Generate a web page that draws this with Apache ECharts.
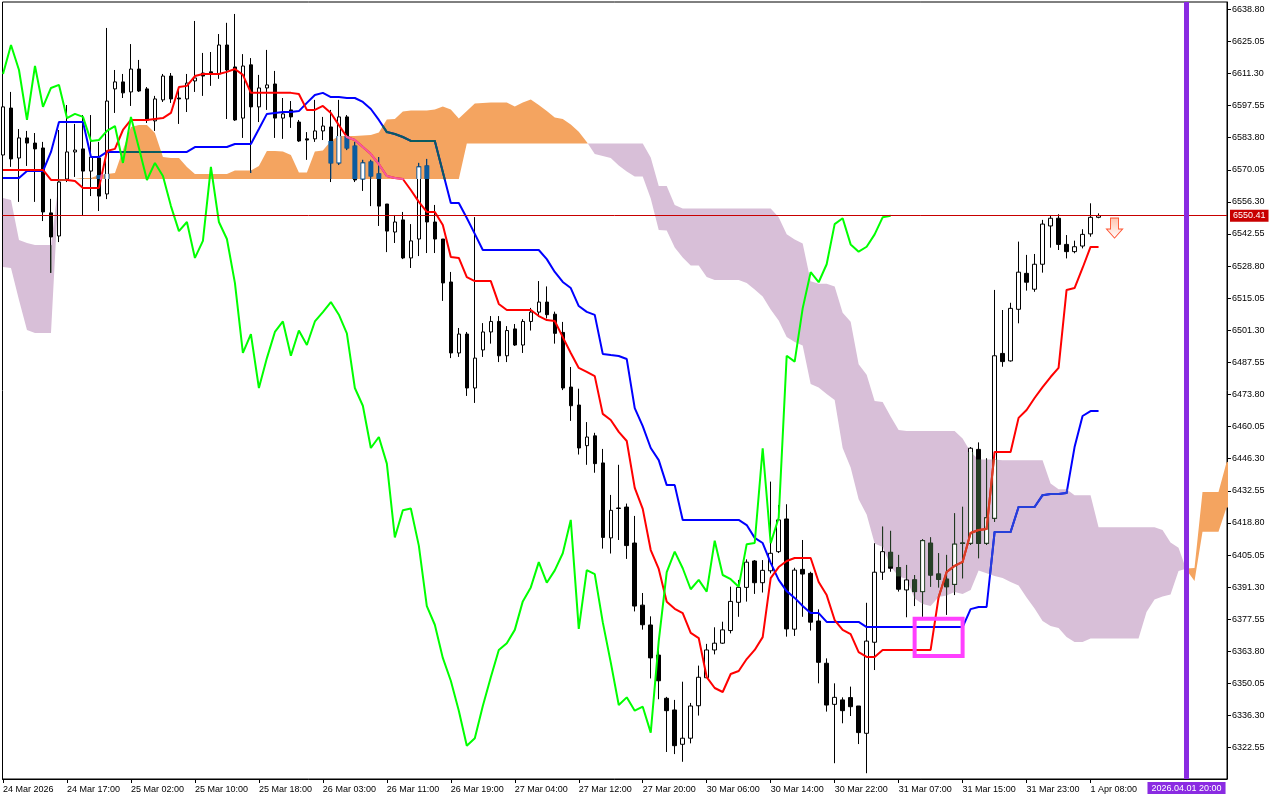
<!DOCTYPE html>
<html><head><meta charset="utf-8">
<script src="https://cdn.jsdelivr.net/npm/echarts@6/dist/echarts.min.js"></script>
<style>html,body{margin:0;padding:0;background:#fff}#c{width:1280px;height:800px}</style>
</head><body><div id="c"></div><script>
// ---- DATA ----
const opens = [
6576.4,6596.5,6575.1,6583.7,6581.5,6579.4,6551.6,6541.7,6566.1,6577.7,
6579.0,6569.5,6575.1,6559.7,6604.7,6607.7,6603.4,6613.2,6604.7,6591.0,
6600.0,6610.2,6600.8,6600.4,6608.1,6611.5,6612.0,6611.1,6623.5,6614.1,
6592.2,6615.0,6597.0,6605.1,6606.8,6592.2,6595.7,6590.5,6583.3,6583.3,
6586.7,6588.4,6573.0,6592.7,6580.2,6566.1,6573.4,6568.3,6555.4,6543.4,
6548.6,6532.3,6540.4,6571.7,6547.7,6540.4,6522.0,6491.6,6499.7,6476.6,
6492.9,6500.6,6505.1,6490.4,6501.9,6495.0,6505.1,6509.1,6513.4,6508.2,
6500.4,6477.0,6469.3,6451.9,6456.1,6444.5,6412.4,6425.2,6425.6,6410.2,
6383.6,6375.1,6362.2,6343.7,6338.7,6324.0,6326.6,6340.5,6352.5,6364.4,
6367.3,6372.7,6384.8,6391.2,6402.5,6393.2,6398.3,6406.5,6420.5,6373.3,
6398.9,6397.2,6376.8,6358.7,6341.1,6343.0,6344.0,6340.4,6328.7,6367.7,
6397.7,6406.2,6399.6,6390.1,6394.4,6389.4,6410.1,6396.9,6394.7,6392.5,
6410.0,6410.1,6450.3,6410.1,6420.8,6491.4,6488.2,6510.3,6525.7,6518.9,
6529.6,6546.0,6549.3,6538.1,6535.0,6537.4,6542.6,6549.7];
const closes = [
6597.0,6574.7,6583.7,6581.5,6579.0,6552.0,6541.3,6564.8,6577.7,6578.5,
6569.5,6575.5,6558.8,6599.5,6607.7,6603.0,6613.2,6603.8,6591.4,6600.4,
6610.2,6600.4,6600.4,6607.2,6609.4,6610.2,6611.1,6623.5,6612.8,6591.4,
6614.5,6597.0,6605.1,6606.4,6592.2,6594.0,6592.7,6582.4,6582.8,6586.7,
6588.8,6573.0,6592.7,6579.4,6565.7,6573.0,6567.4,6554.5,6543.8,6547.7,
6532.3,6539.6,6571.3,6547.7,6540.4,6521.6,6491.6,6499.7,6476.6,6489.4,
6500.6,6505.1,6490.4,6501.2,6495.0,6505.1,6509.1,6513.4,6508.0,6500.0,
6476.6,6469.0,6450.9,6455.6,6444.2,6412.6,6424.2,6425.0,6409.1,6383.2,
6375.2,6361.0,6351.2,6338.4,6323.4,6326.6,6340.4,6352.7,6364.4,6367.3,
6373.0,6385.2,6391.2,6402.0,6393.2,6398.5,6405.8,6420.1,6373.4,6398.6,
6396.9,6376.3,6359.1,6340.8,6344.1,6338.4,6340.1,6329.0,6368.2,6397.7,
6406.5,6399.4,6390.4,6394.4,6389.4,6411.2,6396.5,6394.7,6391.5,6409.7,
6410.2,6450.8,6410.1,6421.0,6490.4,6487.9,6510.7,6526.2,6521.9,6529.6,
6546.8,6549.3,6538.1,6535.0,6537.1,6542.4,6549.7,6550.41];
const highs = [
6597.8,6603.4,6587.5,6586.7,6585.8,6582.0,6557.6,6587.1,6597.8,6589.7,
6593.5,6593.5,6582.0,6630.8,6612.8,6611.1,6623.9,6617.1,6605.5,6601.7,
6611.1,6611.5,6605.5,6611.1,6633.8,6620.1,6620.5,6628.2,6633.0,6636.8,
6619.6,6617.9,6610.7,6621.4,6612.4,6600.8,6599.5,6591.4,6586.2,6600.0,
6592.7,6595.7,6600.0,6593.5,6582.0,6574.3,6574.3,6575.5,6555.4,6550.7,
6552.0,6546.8,6573.0,6574.7,6555.0,6540.4,6526.3,6502.3,6500.6,6549.8,
6504.4,6507.4,6507.4,6503.1,6504.0,6506.1,6510.9,6522.4,6520.1,6509.3,
6504.9,6485.6,6476.3,6462.0,6457.4,6450.5,6430.8,6443.7,6427.1,6421.8,
6388.8,6378.8,6364.4,6344.3,6343.0,6350.8,6341.7,6357.7,6367.0,6374.1,
6376.5,6391.5,6394.4,6403.2,6402.9,6402.9,6436.5,6426.5,6426.8,6399.6,
6411.5,6397.9,6381.8,6360.8,6350.1,6344.1,6348.7,6340.4,6384.6,6410.1,
6417.2,6415.4,6405.1,6400.8,6396.5,6411.9,6412.6,6405.8,6405.1,6422.9,
6425.7,6451.3,6453.3,6446.5,6518.6,6510.0,6513.1,6539.3,6533.6,6534.0,
6548.6,6550.3,6551.0,6542.1,6539.7,6544.6,6555.7,6551.4];
const lows = [
6574.3,6571.3,6556.3,6571.7,6556.3,6548.1,6525.9,6539.1,6564.8,6567.0,
6550.3,6558.8,6552.4,6557.5,6594.4,6600.8,6597.4,6603.4,6590.1,6586.7,
6599.1,6598.7,6589.7,6594.8,6603.4,6601.7,6606.0,6609.0,6591.8,6591.0,
6583.7,6568.7,6590.5,6595.7,6583.7,6583.3,6588.0,6582.0,6574.3,6582.0,
6582.8,6564.8,6572.1,6578.5,6564.8,6561.0,6554.5,6546.0,6534.8,6538.7,
6531.8,6528.0,6533.1,6534.4,6534.4,6513.9,6489.4,6489.9,6473.2,6470.2,
6489.9,6495.6,6487.7,6487.7,6494.6,6491.6,6501.2,6507.0,6506.4,6495.6,
6475.7,6462.5,6448.1,6443.7,6440.3,6407.8,6405.7,6411.5,6403.4,6380.9,
6373.1,6352.2,6343.3,6320.7,6319.8,6316.5,6324.4,6336.3,6352.4,6362.5,
6367.0,6371.5,6378.6,6385.1,6388.4,6389.0,6397.2,6405.9,6370.1,6370.4,
6378.6,6372.7,6350.1,6338.0,6315.9,6333.0,6336.1,6324.1,6311.6,6355.8,
6394.4,6397.9,6389.4,6378.4,6383.2,6378.6,6391.5,6391.2,6379.4,6387.9,
6395.1,6409.4,6403.7,6409.4,6419.3,6485.7,6487.9,6504.3,6518.3,6517.8,
6526.0,6536.7,6535.7,6532.1,6534.3,6536.4,6541.4,6549.3];
const tenkan = [
6570.0,6570.0,6570.0,6570.0,6570.0,6570.0,6565.7,6565.7,6565.7,6565.3,
6562.3,6562.3,6562.3,6578.1,6579.0,6587.1,6591.4,6591.4,6591.4,6591.8,
6592.2,6594.4,6605.5,6606.0,6610.2,6611.1,6611.1,6611.1,6612.0,6613.2,
6610.7,6603.0,6603.0,6603.0,6603.0,6603.0,6603.0,6602.5,6595.7,6595.7,
6597.4,6594.4,6589.2,6584.1,6582.8,6579.8,6576.8,6572.5,6567.4,6566.5,
6566.1,6561.4,6556.3,6552.0,6552.0,6546.4,6532.7,6532.3,6524.1,6522.4,
6522.4,6522.4,6512.6,6510.0,6510.0,6510.0,6510.0,6507.4,6505.7,6505.3,
6498.4,6491.6,6485.2,6483.5,6481.7,6465.5,6462.9,6457.8,6453.9,6433.8,
6424.8,6407.2,6399.1,6385.0,6382.0,6380.2,6371.7,6369.5,6352.8,6348.1,
6346.4,6354.1,6355.4,6360.5,6364.4,6369.9,6395.2,6399.9,6402.5,6403.8,
6403.8,6403.8,6393.5,6387.9,6377.2,6373.0,6371.2,6363.5,6361.4,6361.4,
6364.4,6364.4,6364.4,6364.4,6364.4,6364.4,6364.4,6387.0,6397.8,6400.4,
6402.1,6414.5,6415.8,6416.2,6449.2,6449.2,6449.2,6463.8,6467.2,6472.3,
6477.0,6481.3,6485.2,6518.6,6519.4,6528.0,6537.0,6537.0];
const kijun = [
6566.5,6566.5,6566.5,6569.5,6569.5,6569.5,6577.7,6590.5,6590.5,6590.5,
6590.5,6575.5,6575.5,6577.7,6577.7,6577.7,6577.7,6577.7,6577.7,6577.7,
6577.7,6577.7,6577.7,6577.7,6579.8,6579.8,6579.8,6579.8,6579.8,6581.1,
6581.1,6581.1,6587.5,6594.0,6594.4,6594.8,6594.8,6595.2,6598.7,6602.1,
6603.0,6601.2,6601.2,6600.8,6600.8,6599.1,6596.1,6591.4,6586.2,6585.4,
6584.1,6582.4,6582.4,6582.4,6582.4,6569.1,6555.8,6555.8,6549.4,6542.6,
6535.7,6535.7,6535.7,6535.7,6535.7,6535.7,6535.7,6535.7,6531.8,6526.3,
6522.0,6519.4,6511.7,6509.2,6507.9,6491.2,6490.7,6490.3,6489.0,6468.0,
6460.3,6450.9,6445.7,6435.0,6435.0,6420.1,6420.1,6420.1,6420.1,6420.1,
6420.1,6420.1,6420.1,6417.9,6412.4,6410.2,6401.7,6394.4,6389.6,6386.7,
6383.2,6380.2,6380.2,6376.4,6376.4,6376.4,6376.4,6376.4,6374.2,6374.2,
6374.2,6374.2,6374.2,6374.2,6374.2,6374.2,6374.2,6374.2,6374.2,6374.2,
6374.2,6381.9,6382.8,6382.8,6414.9,6414.9,6414.9,6425.6,6425.6,6425.6,
6430.7,6431.2,6431.2,6431.6,6451.3,6464.6,6466.7,6466.7];
const chikou = [
6611.1,6623.5,6612.8,6591.4,6614.5,6597.0,6605.1,6606.4,6592.2,6594.0,
6592.7,6582.4,6582.8,6586.7,6588.8,6573.0,6592.7,6579.4,6565.7,6573.0,
6567.4,6554.5,6543.8,6547.7,6532.3,6539.6,6571.3,6547.7,6540.4,6521.6,
6491.6,6499.7,6476.6,6489.4,6500.6,6505.1,6490.4,6501.2,6495.0,6505.1,
6509.1,6513.4,6508.0,6500.0,6476.6,6469.0,6450.9,6455.6,6444.2,6412.6,
6424.2,6425.0,6409.1,6383.2,6375.2,6361.0,6351.2,6338.4,6323.4,6326.6,
6340.4,6352.7,6364.4,6367.3,6373.0,6385.2,6391.2,6402.0,6393.2,6398.5,
6405.8,6420.1,6373.4,6398.6,6396.9,6376.3,6359.1,6340.8,6344.1,6338.4,
6340.1,6329.0,6368.2,6397.7,6406.5,6399.4,6390.4,6394.4,6389.4,6411.2,
6396.5,6394.7,6391.5,6409.7,6410.2,6450.8,6410.1,6421.0,6490.4,6487.9,
6510.7,6526.2,6521.9,6529.6,6546.8,6549.3,6538.1,6535.0,6537.1,6542.4,
6549.7,6550.41];
const spanA = [
6528.4,6528.0,6514.3,6501.4,6500.2,6500.2,6500.2,6564.8,6565.9,6566.1,
6566.5,6566.5,6567.8,6568.3,6568.7,6578.5,6588.4,6589.2,6589.2,6585.8,
6575.5,6575.1,6575.1,6571.3,6568.3,6568.3,6568.3,6568.3,6568.3,6569.8,
6569.8,6569.8,6571.7,6578.1,6578.1,6577.9,6576.4,6568.9,6568.9,6577.9,
6578.3,6582.4,6584.5,6584.5,6584.5,6584.7,6585.0,6586.0,6591.6,6591.8,
6595.0,6595.4,6595.4,6595.4,6595.9,6597.2,6595.9,6592.0,6595.2,6598.4,
6598.7,6598.9,6598.9,6598.9,6597.2,6598.9,6600.2,6597.8,6595.2,6592.4,
6591.8,6589.5,6586.4,6582.0,6576.8,6576.0,6575.1,6571.9,6569.3,6567.2,
6567.2,6557.8,6544.3,6544.1,6536.8,6532.5,6529.1,6529.1,6524.1,6522.9,
6522.9,6522.9,6522.9,6521.6,6518.8,6515.8,6510.2,6505.5,6498.4,6496.3,
6494.8,6478.3,6476.8,6474.0,6471.5,6450.9,6442.5,6429.0,6422.4,6410.0,
6408.5,6400.1,6395.9,6394.8,6386.4,6384.1,6383.2,6387.1,6387.7,6389.2,
6388.4,6390.1,6398.4,6397.2,6396.1,6395.2,6393.5,6392.0,6386.9,6382.2,
6376.8,6374.7,6373.8,6369.9,6367.8,6367.8,6369.3,6369.3,6369.3,6369.3,
6369.3,6369.3,6369.3,6380.7,6386.0,6387.3,6388.2,6398.2,6399.3,6399.5,
6432.0,6432.0,6432.0,6444.7,6446.4,6449.0,6453.9,6456.2,6458.2,6475.1,
6485.4,6496.3,6501.9,6501.9];
const spanB = [
6558.0,6557.1,6540.0,6538.7,6537.8,6537.8,6537.8,6565.7,6566.1,6566.1,
6566.1,6566.1,6566.1,6566.1,6566.1,6566.1,6566.1,6566.1,6566.1,6566.1,
6566.1,6566.1,6566.1,6566.1,6566.1,6566.1,6566.1,6566.1,6566.1,6566.1,
6566.1,6566.1,6566.1,6566.1,6566.1,6566.1,6566.1,6566.1,6566.1,6566.1,
6566.1,6566.1,6566.1,6566.1,6566.1,6566.1,6566.1,6566.1,6566.1,6566.1,
6566.1,6566.1,6566.1,6566.1,6566.1,6566.1,6566.1,6566.1,6581.3,6581.3,
6581.3,6581.3,6581.3,6581.3,6581.3,6581.3,6581.3,6581.3,6581.3,6581.3,
6581.3,6581.3,6581.3,6581.3,6581.3,6581.3,6581.3,6581.3,6581.3,6581.3,
6581.3,6575.3,6563.1,6563.1,6555.0,6553.5,6553.5,6553.5,6553.5,6553.5,
6553.5,6553.5,6553.5,6553.5,6553.5,6553.5,6553.5,6549.7,6542.4,6540.2,
6538.5,6522.3,6521.2,6521.2,6520.1,6508.8,6505.0,6486.8,6482.3,6471.0,
6470.6,6464.4,6458.6,6458.2,6458.2,6458.2,6458.2,6458.2,6458.2,6458.2,
6455.0,6449.2,6446.0,6446.0,6446.0,6445.6,6445.6,6445.6,6445.6,6445.6,
6445.6,6435.7,6433.2,6433.2,6430.7,6430.7,6430.7,6417.0,6417.0,6417.0,
6417.0,6417.0,6417.0,6417.0,6417.0,6415.8,6410.4,6408.2,6398.6,6393.9,
6415.0,6415.0,6415.0,6425.4,6425.4,6425.4,6430.0,6430.9,6431.3,6431.3,
6431.3,6431.3,6433.6,6433.6];
const xTickIdx = [0,8,16,24,32,40,48,56,64,72,80,88,96,104,112,120,128,136];
const xTickLabels = ['24 Mar 2026','24 Mar 17:00','25 Mar 02:00','25 Mar 10:00','25 Mar 18:00',
  '26 Mar 03:00','26 Mar 11:00','26 Mar 19:00','27 Mar 04:00','27 Mar 12:00','27 Mar 20:00',
  '30 Mar 06:00','30 Mar 14:00','30 Mar 22:00','31 Mar 07:00','31 Mar 15:00','31 Mar 23:00','1 Apr 08:00'];
const yTicks = [6322.55,6336.30,6350.05,6363.80,6377.55,6391.30,6405.05,6418.80,6432.55,6446.30,
  6460.05,6473.80,6487.55,6501.30,6515.05,6528.80,6542.55,6556.30,6570.05,6583.80,6597.55,
  6611.30,6625.05,6638.80];
const lastPrice = 6550.41;
const markerBar = 148;
const markerLabel = '2026.04.01 20:00';
const boxBars = [114, 120];
const boxPrices = [6377.8, 6361.8];
const sellArrow = [[139, 6545.1]];

// ---- CHART ----
const FONT = 'Liberation Sans';
const ORANGE = '#F4A460', PURPLE = '#D8BFD8';
// colours that the terminal's XOR cloud gives to black / red / blue drawing inside it
const INV = {
  up: { k: 'rgb(11,91,159)', r: 'rgb(244,91,159)', b: 'rgb(11,91,96)' },
  dn: { k: 'rgb(39,64,39)',  r: 'rgb(216,64,39)',  b: 'rgb(39,64,216)' }
};

// contiguous runs of the cloud with the same sign (split at the A/B crossings)
function buildRuns() {
  const runs = [];
  let cur = null;
  for (let i = 0; i < spanA.length; i++) {
    const d = spanA[i] - spanB[i];
    const up = d > 0 ? true : d < 0 ? false : (cur ? cur.up : true);
    if (!cur) {
      cur = { up, A: [[i, spanA[i]]], B: [[i, spanB[i]]] };
    } else if (up !== cur.up) {
      const d0 = spanA[i - 1] - spanB[i - 1];
      const t = d0 / (d0 - d);
      const xc = i - 1 + t, yc = spanA[i - 1] + (spanA[i] - spanA[i - 1]) * t;
      cur.A.push([xc, yc]); cur.B.push([xc, yc]);
      runs.push(cur);
      cur = { up, A: [[xc, yc], [i, spanA[i]]], B: [[xc, yc], [i, spanB[i]]] };
    } else {
      cur.A.push([i, spanA[i]]); cur.B.push([i, spanB[i]]);
    }
  }
  runs.push(cur);
  return runs;
}
const cloudRuns = buildRuns();
function renderCloud(params, api) {
  if (params.dataIndex !== 0) return null;
  return { type: 'group', children: cloudRuns.map(r => ({
    type: 'polygon',
    shape: { points: r.A.map(p => api.coord(p)).concat(r.B.slice().reverse().map(p => api.coord(p))) },
    style: { fill: r.up ? ORANGE : PURPLE } })) };
}

// parts of a line segment (bar i -> i+1) lying inside the cloud
function insideIntervals(i, y0, y1) {
  const a0 = spanA[i], a1 = spanA[i + 1], b0 = spanB[i], b1 = spanB[i + 1];
  const d0 = a0 - b0, d1 = a1 - b1;
  const cuts = [0];
  if (d0 * d1 < 0) cuts.push(d0 / (d0 - d1));
  cuts.push(1);
  const out = [];
  for (let k = 0; k < cuts.length - 1; k++) {
    const ta = cuts[k], tb = cuts[k + 1], tm = (ta + tb) / 2;
    const up = (a0 + (a1 - a0) * tm) > (b0 + (b1 - b0) * tm);
    const U0 = up ? a0 : b0, U1 = up ? a1 : b1, L0 = up ? b0 : a0, L1 = up ? b1 : a1;
    let lo = ta, hi = tb;
    [[U0 - y0, U1 - y1], [y0 - L0, y1 - L1]].forEach(([c0, c1]) => {
      const s = c1 - c0;
      if (Math.abs(s) < 1e-12) { if (c0 < 0) { lo = 1; hi = 0; } }
      else { const tz = -c0 / s; if (s > 0) lo = Math.max(lo, tz); else hi = Math.min(hi, tz); }
    });
    if (hi - lo > 1e-6) out.push([lo, hi, up]);
  }
  return out;
}

const xorBody = [], xorWick = [], xorLine = [];
for (let i = 0; i < opens.length; i++) {
  const a = spanA[i], b = spanB[i];
  if (a === b) continue;
  const up = a > b ? 1 : 0, lo = Math.min(a, b), hi = Math.max(a, b);
  const bMin = Math.min(opens[i], closes[i]), bMax = Math.max(opens[i], closes[i]);
  const s = Math.max(bMin, lo), e = Math.min(bMax, hi);
  if (bMax - bMin < 1e-9) { if (bMin >= lo && bMin <= hi) xorBody.push([i, bMin, bMax, 1, 1, 0, up]); }
  else if (e > s) xorBody.push([i, s, e, s === bMin ? 1 : 0, e === bMax ? 1 : 0, closes[i] > opens[i] ? 1 : 0, up]);
  let ws = Math.max(lows[i], lo), we = Math.min(bMin, hi);
  if (we > ws) xorWick.push([i, ws, we, up]);
  ws = Math.max(bMax, lo); we = Math.min(highs[i], hi);
  if (we > ws) xorWick.push([i, ws, we, up]);
}
[[tenkan, 0], [kijun, 1]].forEach(([arr, which]) => {
  for (let i = 0; i < arr.length - 1; i++) {
    insideIntervals(i, arr[i], arr[i + 1]).forEach(([t0, t1, up]) => {
      xorLine.push([i + t0, arr[i] + (arr[i + 1] - arr[i]) * t0, i + t1, arr[i] + (arr[i + 1] - arr[i]) * t1, which, up ? 1 : 0]);
    });
  }
});

function renderXorBody(params, api) {
  const i = api.value(0);
  const pS = api.coord([i, api.value(1)]), pE = api.coord([i, api.value(2)]);
  const loEdge = api.value(3), hiEdge = api.value(4), bull = api.value(5), up = api.value(6);
  const cx = pS[0];
  const yTop = pE[1] - (hiEdge ? 0.5 : 0), yBot = pS[1] + (loEdge ? 0.5 : 0);
  const ch = [{ type: 'rect', shape: { x: cx - 2.5, y: yTop, width: 5, height: Math.max(1, yBot - yTop) },
    style: { fill: up ? INV.up.k : INV.dn.k } }];
  if (bull) {
    const iTop = pE[1] + (hiEdge ? 0.5 : 0), iBot = pS[1] - (loEdge ? 0.5 : 0);
    if (iBot > iTop) ch.push({ type: 'rect', shape: { x: cx - 1.5, y: iTop, width: 3, height: iBot - iTop }, style: { fill: '#ffffff' } });
  }
  return { type: 'group', children: ch };
}
function renderXorWick(params, api) {
  const i = api.value(0);
  const p0 = api.coord([i, api.value(1)]), p1 = api.coord([i, api.value(2)]);
  return { type: 'line', shape: { x1: p0[0], y1: p0[1], x2: p1[0], y2: p1[1] },
    style: { stroke: api.value(3) ? INV.up.k : INV.dn.k, lineWidth: 1 } };
}
function renderXorLine(params, api) {
  const p0 = api.coord([api.value(0), api.value(1)]), p1 = api.coord([api.value(2), api.value(3)]);
  const up = api.value(5), set = up ? INV.up : INV.dn;
  return { type: 'line', shape: { x1: p0[0], y1: p0[1], x2: p1[0], y2: p1[1] },
    style: { stroke: api.value(4) === 0 ? set.r : set.b, lineWidth: 2, lineCap: 'round' } };
}

const candleData = opens.map((o, i) => [i, o, closes[i], lows[i], highs[i]]);
const toXY = arr => arr.map((v, i) => [i, v]);

const chart = echarts.init(document.getElementById('c'), null, { renderer: 'canvas' });
chart.setOption({
  animation: false,
  backgroundColor: '#ffffff',
  textStyle: { fontFamily: FONT },
  grid: { left: 2, top: 2, width: 1225, height: 777, show: true, borderColor: '#000', borderWidth: 1, backgroundColor: 'rgba(0,0,0,0)' },
  xAxis: {
    type: 'value', min: -0.0625, max: 153.0625,
    axisLine: { show: true, onZero: false, lineStyle: { color: '#000', width: 1 } },
    axisTick: { show: true, customValues: xTickIdx, length: 4, lineStyle: { color: '#000' } },
    axisLabel: { show: true, customValues: xTickIdx, formatter: v => xTickLabels[xTickIdx.indexOf(Math.round(v))] || '',
      align: 'left', margin: 6, fontSize: 9, fontFamily: FONT, color: '#000' },
    splitLine: { show: false }
  },
  yAxis: {
    type: 'value', position: 'right', min: 6309.13, max: 6641.92, scale: true,
    axisLine: { show: true, onZero: false, lineStyle: { color: '#000', width: 1 } },
    axisTick: { show: true, customValues: yTicks, length: 4, lineStyle: { color: '#000' } },
    axisLabel: { show: true, customValues: yTicks, formatter: v => v.toFixed(2), margin: 5, fontSize: 9, fontFamily: FONT, color: '#000' },
    splitLine: { show: false }
  },
  series: [
    { type: 'custom', name: 'cloud', data: [[0, spanA[0], spanB[0]]], renderItem: renderCloud, clip: true, z: 1, silent: true,
      encode: { x: 0, y: [1, 2] } },
    { type: 'candlestick', name: 'price', data: candleData, barWidth: 4, z: 2, silent: true, clip: true,
      itemStyle: { color: '#ffffff', color0: '#000000', borderColor: '#000000', borderColor0: '#000000', borderColorDoji: '#000000', borderWidth: 1 } },
    { type: 'custom', name: 'xorWick', data: xorWick, renderItem: renderXorWick, clip: true, z: 3, silent: true,
      encode: { x: 0, y: [1, 2] } },
    { type: 'custom', name: 'xorBody', data: xorBody, renderItem: renderXorBody, clip: true, z: 3, silent: true,
      encode: { x: 0, y: [1, 2] } },
    { type: 'line', name: 'Kijun', data: toXY(kijun), showSymbol: false, symbol: 'none', z: 4, silent: true,
      lineStyle: { color: '#0000ff', width: 2 } },
    { type: 'line', name: 'Tenkan', data: toXY(tenkan), showSymbol: false, symbol: 'none', z: 5, silent: true,
      lineStyle: { color: '#ff0000', width: 2 } },
    { type: 'custom', name: 'xorLine', data: xorLine, renderItem: renderXorLine, clip: true, z: 6, silent: true,
      encode: { x: [0, 2], y: [1, 3] } },
    { type: 'line', name: 'Chikou', data: toXY(chikou), showSymbol: false, symbol: 'none', z: 7, silent: true,
      lineStyle: { color: '#00ff00', width: 2 } },
    { type: 'scatter', name: 'signal', data: sellArrow, z: 8, silent: true,
      symbol: 'path://M4,0 L12,0 L12,11 L16,11 L8,20 L0,11 L4,11 Z', symbolSize: [16, 20],
      itemStyle: { color: { type: 'linear', x: 0, y: 0, x2: 0, y2: 1, colorStops: [{ offset: 0, color: '#ffb49a' }, { offset: 1, color: '#ffffff' }] },
        borderColor: '#ff2a00', borderWidth: 1 },
      markArea: { silent: true, z: 9, data: [[{ xAxis: boxBars[0], yAxis: boxPrices[0] }, { xAxis: boxBars[1], yAxis: boxPrices[1] }]],
        itemStyle: { color: 'rgba(0,0,0,0)', borderColor: '#ff40ff', borderWidth: 4 } },
      markLine: { silent: true, symbol: 'none', animation: false, z: 10,
        data: [
          { yAxis: lastPrice, lineStyle: { color: '#c80000', width: 1, type: 'solid' },
            label: { show: true, position: 'end', formatter: lastPrice.toFixed(2), distance: 3, backgroundColor: '#c80000', color: '#ffffff',
              padding: [2, 3, 1, 3], fontSize: 9, fontFamily: FONT } },
          { xAxis: markerBar, lineStyle: { color: '#8a2be2', width: 5, type: 'solid' },
            label: { show: true, position: 'start', formatter: markerLabel, distance: 3, backgroundColor: '#8a2be2', color: '#ffffff',
              padding: [2, 4, 1, 4], fontSize: 9, fontFamily: FONT } }
        ] } }
  ]
});
</script></body></html>
